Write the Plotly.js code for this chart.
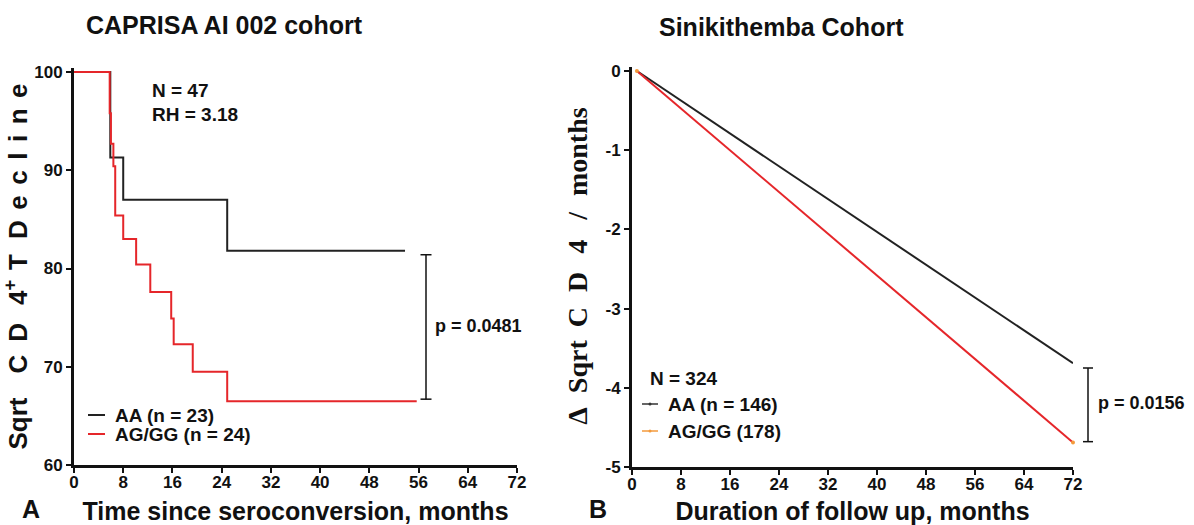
<!DOCTYPE html>
<html><head><meta charset="utf-8">
<script src="https://cdn.plot.ly/plotly-3.0.1.min.js"></script>
<style>html,body{margin:0;padding:0;background:#fff}#chart{width:1194px;height:525px}</style>
</head><body><div id="chart"></div>
<script>
// ---------- Data: panel A (CAPRISA AI 002 cohort), step curves ----------
const aaMonthsA  = [0, 5.9, 8.0, 24.9, 53.8];
const aaValuesA  = [100, 91.3, 87.0, 81.8, 81.8];
const aggMonthsA = [0, 5.8, 6.0, 6.4, 6.7, 8.0, 10.1, 12.4, 15.8, 16.2, 19.3, 24.9, 55.7];
const aggValuesA = [100, 95.8, 92.7, 90.4, 85.4, 83.0, 80.4, 77.6, 74.9, 72.3, 69.5, 66.5, 66.5];
// ---------- Data: panel B (Sinikithemba cohort), linear decline ----------
const monthsB    = [0.8, 72];
const aaValuesB  = [0, -3.69];
const aggValuesB = [0, -4.69];
// ---------- Ticks and labels ----------
const xTicks  = [0, 8, 16, 24, 32, 40, 48, 56, 64, 72];
const yTicksA = [60, 70, 80, 90, 100];
const yTicksB = [-5, -4, -3, -2, -1, 0];
const legendA = ['AA (n = 23)', 'AG/GG (n = 24)'];
const legendB = ['AA (n = 146)', 'AG/GG (178)'];
const statsA  = ['N = 47', 'RH = 3.18'];
const statsB  = ['N = 324'];
const pA = 'p = 0.0481', pB = 'p = 0.0156';
const pBracketA = [81.4, 66.7];
const pBracketB = [-3.75, -4.68];

const SANS = 'Liberation Sans, Arial, sans-serif';
const SERIF = 'Liberation Serif, Times New Roman, serif';
const INK = '#111111';
const RED = '#e5262a';
const ORANGE = '#f39a3c';
const W = 1194, H = 525;
const px = v => v / W;            // pixel x -> paper
const py = v => (H - v) / H;      // pixel y -> paper
// gap of about w pixels built from non-breaking spaces, never larger than the base font
function sp(w, base, em) {
  const one = base * em;
  const n = Math.floor(w / one);
  const rest = w - n * one;
  let s = '\u00A0'.repeat(n);
  if (rest > 0.5) s += '<span style="font-size:' + (rest / em).toFixed(1) + 'px">\u00A0</span>';
  return s;
}
const spA = w => sp(w, 26, 0.278);
const spB = w => sp(w, 28, 0.25);

const traces = [
  {x: aaMonthsA, y: aaValuesA, xaxis: 'x', yaxis: 'y', mode: 'lines', line: {shape: 'hv', color: '#222', width: 2}, showlegend: false, hoverinfo: 'skip'},
  {x: aggMonthsA, y: aggValuesA, xaxis: 'x', yaxis: 'y', mode: 'lines', line: {shape: 'hv', color: RED, width: 2}, showlegend: false, hoverinfo: 'skip'},
  {x: monthsB, y: aaValuesB, xaxis: 'x2', yaxis: 'y2', mode: 'lines', line: {color: '#222', width: 2}, showlegend: false, hoverinfo: 'skip'},
  {x: monthsB, y: aggValuesB, xaxis: 'x2', yaxis: 'y2', mode: 'lines+markers', line: {color: RED, width: 2}, marker: {color: ORANGE, size: 4}, showlegend: false, hoverinfo: 'skip', cliponaxis: false}
];

const tickFont = {family: SANS, size: 17, color: INK, weight: 'bold'};
const axisBase = {showgrid: false, zeroline: false, showline: true, linecolor: INK, linewidth: 3,
  ticks: 'outside', ticklen: 5, tickwidth: 2, tickcolor: INK, tickfont: tickFont, fixedrange: true};
const titleFont = {family: SANS, size: 25, color: INK, weight: 'bold'};

const declineLetters = ['D', 'e', 'c', 'l', 'i', 'n', 'e'];
const yTitleA = 'Sqrt' + spA(24) + 'C' + spA(13) + 'D' + spA(18) + '4<sup>+</sup>' + spA(10) + 'T' + spA(15) +
  declineLetters.join(spA(10.5));
const yTitleB = spB(16) + '\u0394' + spB(14) + 'Sqrt' + spB(13) + 'C' + spB(15) + 'D' + spB(18) + '4' +
  spB(20) + '/' + spB(16) + 'months';

const layout = {
  width: W, height: H,
  margin: {l: 0, r: 0, t: 0, b: 0},
  paper_bgcolor: '#fff', plot_bgcolor: '#fff',
  showlegend: false,
  font: {family: SANS, color: INK},
  xaxis: Object.assign({}, axisBase, {domain: [px(74), px(517)], range: [0, 72], tickvals: xTicks, anchor: 'y',
    ticklabelstandoff: -5,
    title: {text: 'Time since seroconversion, months', font: titleFont, standoff: 18}}),
  yaxis: Object.assign({}, axisBase, {domain: [py(465), py(68.07)], range: [60, 100.4], tickvals: yTicksA, anchor: 'x',
    title: {text: yTitleA, font: {family: SANS, size: 26, color: INK, weight: 'bold'}, standoff: 4}}),
  xaxis2: Object.assign({}, axisBase, {domain: [px(632), px(1073)], range: [0, 72], tickvals: xTicks, anchor: 'y2',
    ticklabelstandoff: -5,
    title: {text: 'Duration of follow up, months', font: titleFont, standoff: 18}}),
  yaxis2: Object.assign({}, axisBase, {domain: [py(467), py(67.04)], range: [-5, 0.05], tickvals: yTicksB,
    ticktext: yTicksB.map(v => String(v)), anchor: 'x2',
    title: {text: yTitleB, font: {family: SERIF, size: 28, color: INK, weight: 'bold'}, standoff: 10}}),
  shapes: [
    // p bracket A
    {type: 'line', xref: 'paper', yref: 'y', x0: px(426), x1: px(426), y0: pBracketA[1], y1: pBracketA[0], line: {color: INK, width: 1.5}},
    {type: 'line', xref: 'paper', yref: 'y', x0: px(420.5), x1: px(431.5), y0: pBracketA[0], y1: pBracketA[0], line: {color: INK, width: 1.5}},
    {type: 'line', xref: 'paper', yref: 'y', x0: px(420.5), x1: px(431.5), y0: pBracketA[1], y1: pBracketA[1], line: {color: INK, width: 1.5}},
    // p bracket B
    {type: 'line', xref: 'paper', yref: 'y2', x0: px(1088), x1: px(1088), y0: pBracketB[1], y1: pBracketB[0], line: {color: INK, width: 1.5}},
    {type: 'line', xref: 'paper', yref: 'y2', x0: px(1083), x1: px(1093), y0: pBracketB[0], y1: pBracketB[0], line: {color: INK, width: 1.5}},
    {type: 'line', xref: 'paper', yref: 'y2', x0: px(1083), x1: px(1093), y0: pBracketB[1], y1: pBracketB[1], line: {color: INK, width: 1.5}},
    // legend A swatches
    {type: 'line', xref: 'paper', yref: 'paper', x0: px(88), x1: px(105), y0: py(415), y1: py(415), line: {color: '#222', width: 2}},
    {type: 'line', xref: 'paper', yref: 'paper', x0: px(88), x1: px(105), y0: py(434), y1: py(434), line: {color: RED, width: 2}},
    // legend B swatches
    {type: 'line', xref: 'paper', yref: 'paper', x0: px(642), x1: px(658), y0: py(404), y1: py(404), line: {color: '#333', width: 1.5}},
    {type: 'circle', xref: 'paper', yref: 'paper', x0: px(648.5), x1: px(651.5), y0: py(402.5), y1: py(405.5), fillcolor: '#333', line: {width: 0}},
    {type: 'line', xref: 'paper', yref: 'paper', x0: px(642), x1: px(658), y0: py(431), y1: py(431), line: {color: ORANGE, width: 1.5}},
    {type: 'circle', xref: 'paper', yref: 'paper', x0: px(648.5), x1: px(651.5), y0: py(429.5), y1: py(432.5), fillcolor: ORANGE, line: {width: 0}}
  ],
  annotations: [
    {text: 'CAPRISA AI 002 cohort', xref: 'paper', yref: 'paper', x: px(224), y: py(25), showarrow: false, xanchor: 'center', yanchor: 'middle', font: titleFont},
    {text: 'Sinikithemba Cohort', xref: 'paper', yref: 'paper', x: px(781), y: py(27), showarrow: false, xanchor: 'center', yanchor: 'middle', font: titleFont},
    {text: 'A', xref: 'paper', yref: 'paper', x: px(31), y: 0, showarrow: false, xanchor: 'center', yanchor: 'bottom', font: titleFont},
    {text: 'B', xref: 'paper', yref: 'paper', x: px(598), y: 0, showarrow: false, xanchor: 'center', yanchor: 'bottom', font: titleFont},
    {text: statsA[0], xref: 'paper', yref: 'paper', x: px(150), y: py(90.5), showarrow: false, xanchor: 'left', yanchor: 'middle', font: {family: SANS, size: 19, color: INK, weight: 'bold'}},
    {text: statsA[1], xref: 'paper', yref: 'paper', x: px(150), y: py(114.5), showarrow: false, xanchor: 'left', yanchor: 'middle', font: {family: SANS, size: 19, color: INK, weight: 'bold'}},
    {text: legendA[0], xref: 'paper', yref: 'paper', x: px(113), y: py(415), showarrow: false, xanchor: 'left', yanchor: 'middle', font: {family: SANS, size: 19, color: INK, weight: 'bold'}},
    {text: legendA[1], xref: 'paper', yref: 'paper', x: px(113), y: py(435), showarrow: false, xanchor: 'left', yanchor: 'middle', font: {family: SANS, size: 19, color: INK, weight: 'bold'}},
    {text: pA, xref: 'paper', yref: 'paper', x: px(433), y: py(326), showarrow: false, xanchor: 'left', yanchor: 'middle', font: {family: SANS, size: 18, color: INK, weight: 'bold'}},
    {text: statsB[0], xref: 'paper', yref: 'paper', x: px(648), y: py(379), showarrow: false, xanchor: 'left', yanchor: 'middle', font: {family: SANS, size: 19, color: INK, weight: 'bold'}},
    {text: legendB[0], xref: 'paper', yref: 'paper', x: px(666), y: py(404), showarrow: false, xanchor: 'left', yanchor: 'middle', font: {family: SANS, size: 19, color: INK, weight: 'bold'}},
    {text: legendB[1], xref: 'paper', yref: 'paper', x: px(666), y: py(431), showarrow: false, xanchor: 'left', yanchor: 'middle', font: {family: SANS, size: 19, color: INK, weight: 'bold'}},
    {text: pB, xref: 'paper', yref: 'paper', x: px(1096), y: py(403), showarrow: false, xanchor: 'left', yanchor: 'middle', font: {family: SANS, size: 18, color: INK, weight: 'bold'}}
  ]
};

Plotly.newPlot('chart', traces, layout, {staticPlot: true, displayModeBar: false});
</script>
</body></html>
